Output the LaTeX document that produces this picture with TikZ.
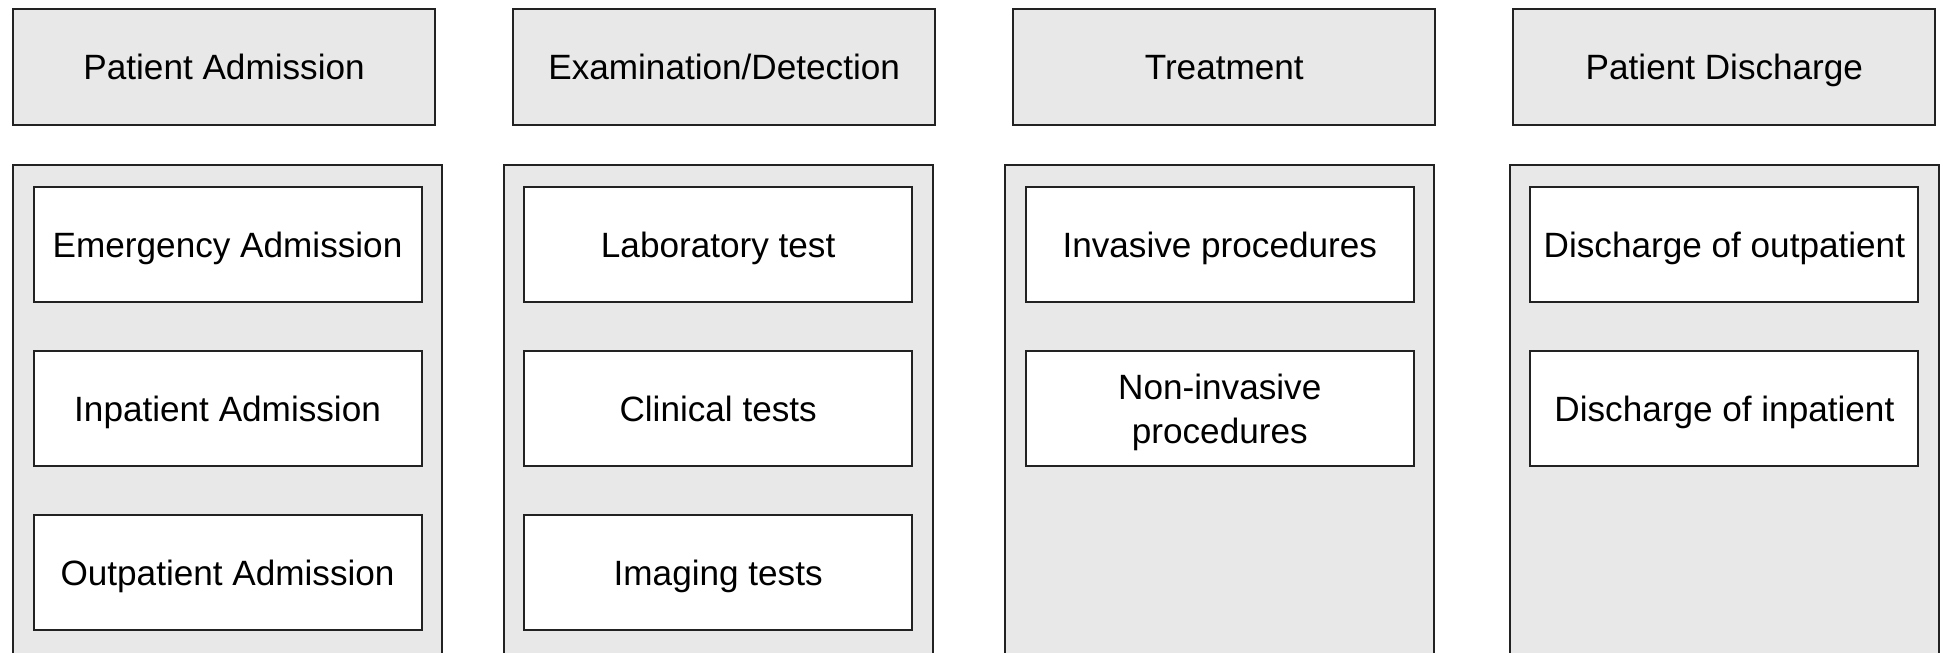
\documentclass[tikz,border=0pt]{standalone}
\usepackage{fontspec}
\setmainfont{Liberation Sans}
\usetikzlibrary{positioning}

\definecolor{panelgray}{HTML}{E8E8E8}
\definecolor{linegray}{HTML}{222222}

\begin{document}
\begin{tikzpicture}[
    stage/.style={rectangle, draw=linegray, line width=0.6pt, fill=panelgray,
                  minimum width=4.22cm, minimum height=1.16cm, align=center,
                  text depth=0pt, font=\fontsize{10}{12.4}\selectfont},
    column/.style={rectangle, draw=linegray, line width=0.6pt, fill=panelgray,
                   minimum width=4.29cm, minimum height=5.4cm},
    item/.style={rectangle, draw=linegray, line width=0.6pt, fill=white,
                 minimum width=3.88cm, minimum height=1.15cm, align=center,
                 text depth=0pt, font=\fontsize{10}{12.4}\selectfont},
]
\clip (0,0) rectangle (19.43,-6.53);

% ---------- Stage headers (left -> right) ----------
\node[stage, anchor=north west] (adm) at (0.12,-0.08) {Patient Admission};
\node[stage, right=0.76cm of adm]   (exam)  {Examination/Detection};
\node[stage, right=0.76cm of exam]  (treat) {Treatment};
\node[stage, right=0.76cm of treat] (dis)   {Patient Discharge};

% ---------- Grey columns, running off the bottom edge ----------
\node[column, below=0.38cm of adm,   xshift=0.035cm] (admcol)   {};
\node[column, below=0.38cm of exam,  xshift=-0.06cm] (examcol)  {};
\node[column, below=0.38cm of treat, xshift=-0.045cm] (treatcol) {};
\node[column, below=0.38cm of dis]                   (discol)   {};

% ---------- Column 1: admission types ----------
\node[item, below=0.22cm of admcol.north] (emerg)  {Emergency Admission};
\node[item, below=0.47cm of emerg]        (inpat)  {Inpatient Admission};
\node[item, below=0.47cm of inpat]        (outpat) {Outpatient Admission};

% ---------- Column 2: tests ----------
\node[item, below=0.22cm of examcol.north] (lab)     {Laboratory test};
\node[item, below=0.47cm of lab]           (clin)    {Clinical tests};
\node[item, below=0.47cm of clin]          (imaging) {Imaging tests};

% ---------- Column 3: procedures ----------
\node[item, below=0.22cm of treatcol.north] (inv)    {Invasive procedures};
\node[item, below=0.47cm of inv]            (noninv) {Non-invasive\\procedures};

% ---------- Column 4: discharge types ----------
\node[item, below=0.22cm of discol.north] (disout) {Discharge of outpatient};
\node[item, below=0.47cm of disout]       (disin)  {Discharge of inpatient};

\end{tikzpicture}
\end{document}
